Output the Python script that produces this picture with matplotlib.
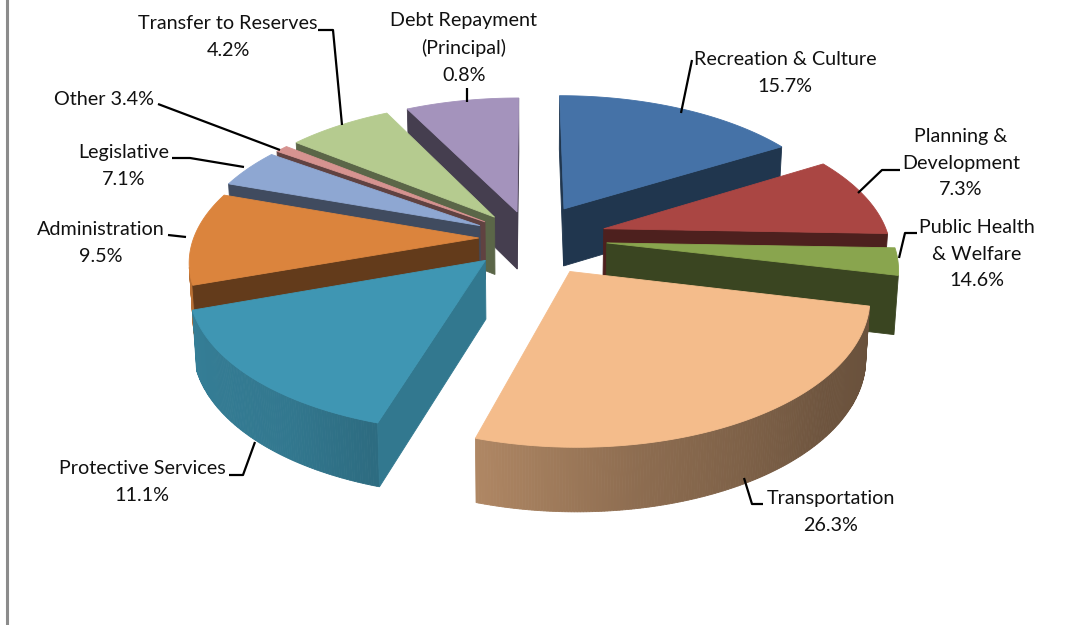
import numpy as np
import matplotlib
matplotlib.use("Agg")
import matplotlib.pyplot as plt
from matplotlib.patches import Polygon

plt.rcParams['font.family'] = ['Lato', 'DejaVu Sans']

# clockwise from 12 o'clock, same order as the chart
categories = ["Recreation & Culture", "Planning &\nDevelopment", "Public Health\n& Welfare",
              "Transportation", "Protective Services", "Administration", "Legislative",
              "Other", "Transfer to Reserves", "Debt Repayment\n(Principal)"]
percent_labels = [15.7, 7.3, 14.6, 26.3, 11.1, 9.5, 7.1, 3.4, 4.2, 0.8]
# the drawn slices don't follow the printed percentages, so these are read off the picture
drawn_degrees = [59, 33, 11, 94, 54, 38, 16, 3, 25, 27]

explode = [0.25, 0.27, 0.27, 0.27, 0.22, 0.18, 0.2, 0.2, 0.2, 0.2]
colors = ["#4572A7", "#AA4643", "#89A54E", "#F4BC8B", "#3F96B3",
          "#DB843D", "#8EA7D2", "#D69390", "#B5CB8F", "#A493BC"]
wall_shade = [0.47, 0.45, 0.42, 0.45, 0.8, 0.45, 0.45, 0.45, 0.5, 0.42]
draw_order = [9, 8, 7, 6, 5, 4, 0, 1, 2, 3]

label_pos = [(785, 59), (961, 136), (977, 227), (831, 498), (142, 468),
             (101, 229), (124, 152), (104, 99), (228, 23), (464, 20)]
leaders = [[(692, 60), (681, 113)],
           [(900, 170), (882, 170), (858, 193)],
           [(917, 233), (905, 233), (899, 258)],
           [(763, 504), (752, 504), (744, 478)],
           [(229, 475), (243, 475), (255, 442)],
           [(168, 235), (186, 237)],
           [(172, 158), (190, 158), (244, 167)],
           [(158, 104), (280, 150)],
           [(318, 30), (333, 30), (342, 125)],
           [(467, 88), (467, 102)]]

CX, CY, R, FLAT, PERSP, DEPTH = 530, 238, 285, 0.485, 0.15, 58


def project(u, v, z=0):
    s = 1 / (1 - PERSP * v)
    x = CX + u * R * s * (1 - 0.012 * z)
    y = CY + v * R * FLAT * s + z * DEPTH * (1 + 0.5 * (s - 1))
    return x, y


def outer_shade(deg):
    return np.interp(deg % 360, [90, 130, 170, 197, 198, 215, 260, 360],
                     [0.42, 0.45, 0.58, 0.72, 0.72, 0.8, 0.85, 0.5])


def darken(color, f):
    return tuple(c * f for c in matplotlib.colors.to_rgb(color))


def add(ax, pts, color, z):
    ax.add_patch(Polygon(pts, closed=True, facecolor=color, edgecolor=color, lw=0.6, zorder=z))


def area(pts):
    x, y = np.array(pts).T
    return np.sum(x * np.roll(y, -1) - np.roll(x, -1) * y)


def draw_slice(ax, i, start, sweep, z):
    mid = np.radians(start + sweep / 2)
    ax0, av0 = explode[i] * np.sin(mid), -explode[i] * np.cos(mid)
    degs = np.linspace(start, start + sweep, max(int(sweep) * 2, 4))
    us = ax0 + np.sin(np.radians(degs))
    vs = av0 - np.cos(np.radians(degs))
    col = colors[i]

    # only walls facing the viewer get drawn, outer wall first
    for k in range(len(degs) - 1):
        seg = [project(us[k], vs[k]), project(us[k + 1], vs[k + 1]),
               project(us[k + 1], vs[k + 1], 1), project(us[k], vs[k], 1)]
        if area(seg) < 0:
            add(ax, seg, darken(col, outer_shade(degs[k])), z)

    wall_col = darken(col, wall_shade[i])
    wall = [project(ax0, av0), project(us[0], vs[0]), project(us[0], vs[0], 1), project(ax0, av0, 1)]
    if area(wall) < 0:
        add(ax, wall, wall_col, z + 0.1)
    wall = [project(ax0, av0), project(us[-1], vs[-1]), project(us[-1], vs[-1], 1), project(ax0, av0, 1)]
    if area(wall) > 0:
        add(ax, wall, wall_col, z + 0.1)

    top = [project(ax0, av0)] + [project(a, b) for a, b in zip(us, vs)]
    add(ax, top, col, z + 0.2)


fig = plt.figure(figsize=(10.89, 6.25), dpi=100)
ax = fig.add_axes([0, 0, 1, 1])
ax.set_xlim(0, 1089)
ax.set_ylim(625, 0)
ax.axis("off")

starts = np.cumsum([0] + drawn_degrees[:-1])
for n, i in enumerate(draw_order):
    draw_slice(ax, i, starts[i], drawn_degrees[i], n + 1)

for i, name in enumerate(categories):
    if name == "Other":
        text = f"{name} {percent_labels[i]}%"
    else:
        text = f"{name}\n{percent_labels[i]}%"
    x, y = label_pos[i]
    ax.text(x, y - 8, text, ha="center", va="top", fontsize=14.2, color="#111111",
            linespacing=1.68, zorder=30)
    lx, ly = zip(*leaders[i])
    ax.plot(lx, ly, color="black", lw=1.6, zorder=25, solid_capstyle="butt")

# edge of the original chart frame
ax.plot([7, 7], [0, 625], color="#8c8c8c", lw=2.2)

fig.savefig("out.png", dpi=100)
